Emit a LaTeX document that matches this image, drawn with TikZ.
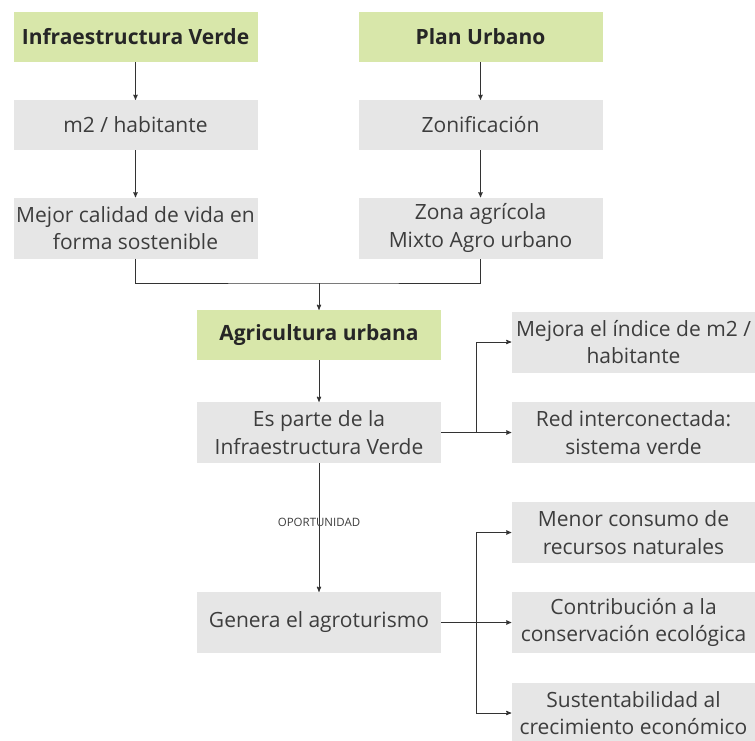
\documentclass[tikz,border=0pt]{standalone}
\usepackage{fontspec}
\setmainfont{Open Sans}
\usepackage{tikz}
\usetikzlibrary{arrows,positioning}
\definecolor{leaf}{HTML}{D8E7AA}
\definecolor{paper}{HTML}{E6E6E6}
\definecolor{ink}{HTML}{3D3D3D}

\begin{document}
\begin{tikzpicture}[
  x=1pt, y=-1pt,
  every node/.style={align=center},
  item/.style={fill=paper,text=ink,minimum width=244pt,minimum height=50pt,inner sep=0pt,
    font=\fontsize{21}{27.5}\selectfont},
  tall/.style={item,minimum height=61pt},
  heading/.style={item,fill=leaf,text=black!85,font=\fontsize{21}{27.5}\selectfont\bfseries},
  link/.style={draw=black!80,line width=0.9pt},
  flow/.style={link,->,>=stealth'},
  tag/.style={font=\fontsize{11.5}{13}\selectfont,text=ink,inner sep=1pt}]

  \useasboundingbox (0,0) rectangle (755,740);

  % Position nodes at pixel coordinates
  \node[heading] (infra)  at (135.5,37)  {Infraestructura Verde};
  \node[heading] (plan)   at (480.5,37)  {Plan Urbano};
  \node[item]    (m2)     at (135.5,125) {m2 / habitante};
  \node[item]    (zonif)  at (480.5,125) {Zonificación};
  \node[tall]    (mejor)  at (135.5,228) {Mejor calidad de vida en\\forma sostenible};
  \node[tall]    (zona)   at (480.5,228) {Zona agrícola\\Mixto Agro urbano};
  \node[heading] (agri)   at (319,335)   {Agricultura urbana};
  \node[tall]    (parte)  at (319,432.5) {Es parte de la\\Infraestructura Verde};
  \node[tall]    (mejora) at (633.5,342) {Mejora el índice de m2 /\\habitante};
  \node[tall]    (red)    at (633.5,432.5) {Red interconectada:\\sistema verde};
  \node[tall]    (genera) at (319,622.5) {Genera el agroturismo};
  \node[tall]    (menor)  at (633.5,532.5) {Menor consumo de\\recursos naturales};
  \node[tall]    (contrib) at (633.5,622.5) {Contribución a la\\conservación ecológica};
  \node[tall]    (sust)   at (633.5,713) {Sustentabilidad al\\crecimiento económico};

  \coordinate (merge) at (319,283);
  \coordinate (fork1) at (476,432.5);
  \coordinate (fork2) at (476,622.5);

  % Draw the arrows between the nodes and label them.
  \draw[flow] (infra) -- (m2);
  \draw[flow] (m2)    -- (mejor);
  \draw[flow] (plan)  -- (zonif);
  \draw[flow] (zonif) -- (zona);
  \draw[link] (mejor) |- (merge) -| (zona);
  \draw[flow] (merge) -- (agri);
  \draw[flow] (agri)  -- (parte);
  \draw[flow] (parte) -- node[tag,pos=0.46] {OPORTUNIDAD} (genera);
  \draw[link] (parte) -- (fork1);
  \draw[flow] (fork1) |- (mejora);
  \draw[flow] (fork1) -- (red);
  \draw[link] (genera) -- (fork2);
  \draw[flow] (fork2) |- (menor);
  \draw[flow] (fork2) -- (contrib);
  \draw[flow] (fork2) |- (sust);

\end{tikzpicture}
\end{document}
